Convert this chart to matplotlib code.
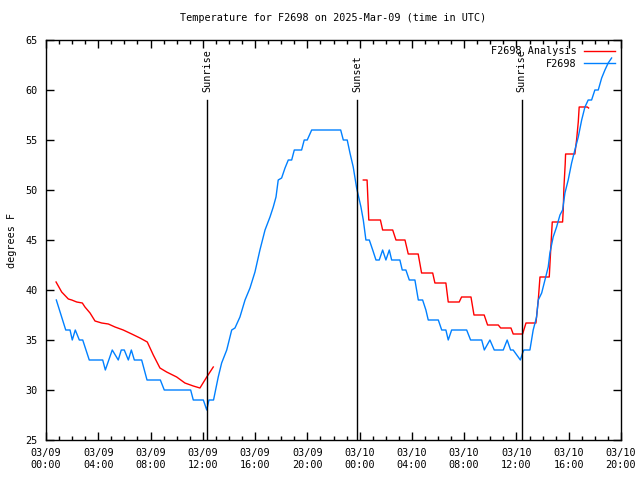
import numpy as np
import matplotlib
matplotlib.use('Agg')
import matplotlib.pyplot as plt
from matplotlib.ticker import MultipleLocator

# hours since 2025-03-09 00:00 UTC
obs_hours = [0.79, 1.51, 1.84, 2.01, 2.24, 2.55, 2.81, 3.31, 4.34, 4.54, 5.07, 5.53, 5.76, 5.99,
             6.30, 6.53, 6.76, 7.32, 7.73, 8.75, 9.05, 11.07, 11.27, 12.04, 12.30, 12.47, 12.82,
             13.18, 13.44, 13.83, 14.21, 14.46, 14.84, 15.23, 15.61, 15.99, 16.37, 16.76, 17.14,
             17.39, 17.60, 17.77, 18.03, 18.29, 18.54, 18.80, 19.00, 19.56, 19.76, 19.99, 20.33,
             22.55, 22.75, 23.05, 23.26, 23.51, 23.77, 24.10, 24.28, 24.48, 24.74, 25.00, 25.25,
             25.50, 25.76, 26.01, 26.27, 26.45, 27.08, 27.26, 27.54, 27.80, 28.23, 28.49, 28.82,
             29.07, 29.25, 30.02, 30.28, 30.60, 30.78, 31.04, 32.19, 32.49, 33.34, 33.54, 33.97,
             34.30, 34.99, 35.29, 35.55, 35.75, 36.30, 36.47, 36.57, 37.03, 37.28, 37.54, 37.67,
             37.93, 38.18, 38.43, 38.56, 38.81, 39.07, 39.33, 39.53, 39.71, 39.96, 40.22, 40.47,
             40.73, 40.99, 41.24, 41.49, 41.75, 42.00, 42.26, 42.52, 42.77, 43.02, 43.28]
obs_temp = [39, 36, 36, 35, 36, 35, 35, 33, 33, 32, 34, 33, 34, 34,
            33, 34, 33, 33, 31, 31, 30, 30, 29, 29, 28, 29, 29,
            31.3, 32.7, 34, 36, 36.2, 37.3, 39, 40.2, 41.8, 44, 46, 47.3,
            48.3, 49.3, 51, 51.2, 52.2, 53, 53, 54, 54, 55, 55, 56,
            56, 55, 55, 53.7, 52.3, 50.2, 48.3, 47, 45, 45, 44, 43,
            43, 44, 43, 44, 43, 43, 42, 42, 41, 41, 39, 39,
            38, 37, 37, 36, 36, 35, 36, 36, 35, 35, 34, 35,
            34, 34, 35, 34, 34, 33, 33.7, 34, 34, 36, 37.3, 39,
            39.7, 41, 42.3, 43.7, 45.3, 46.3, 47.5, 48, 49.7, 51, 52.7, 54,
            55.3, 57, 58.3, 59, 59, 60, 60, 61.2, 62, 62.7, 63.2]

ana_hours = [0.77, 1.20, 1.71, 1.97, 2.35, 2.78, 2.98, 3.37, 3.75, 4.26, 4.77, 5.28, 5.91,
             6.56, 7.19, 7.75, 8.21, 8.72, 9.23, 10.00, 10.63, 11.27, 11.78, 12.30, 12.80,
             None,
             24.28, 24.57, 24.70, 25.59, 25.76, 26.53, 26.78, 27.47, 27.72, 28.48, 28.74, 29.59,
             29.76, 30.60, 30.78, 31.62, 31.80, 32.52, 32.75, 33.53, 33.79, 34.61, 34.79, 35.58,
             35.75, 36.47, 36.73, 37.49, 37.67, 37.80, 38.51, 38.62, 38.74, 39.53, 39.58, 39.63,
             39.73, 39.76, 40.47, 40.60, 40.73, 40.80, 41.42, 41.52]
ana_temp = [40.8, 39.8, 39.1, 39, 38.8, 38.7, 38.3, 37.7, 36.9, 36.7, 36.6, 36.3, 36,
            35.6, 35.2, 34.8, 33.5, 32.2, 31.8, 31.3, 30.7, 30.4, 30.2, 31.3, 32.3,
            None,
            51, 51, 47, 47, 46, 46, 45, 45, 43.6, 43.6, 41.7, 41.7,
            40.7, 40.7, 38.8, 38.8, 39.3, 39.3, 37.5, 37.5, 36.5, 36.5, 36.2, 36.2,
            35.6, 35.6, 36.7, 36.7, 39, 41.3, 41.3, 44, 46.8, 46.8, 48, 50.2,
            52.6, 53.6, 53.6, 55, 56.8, 58.3, 58.3, 58.2]

sun_hours = [12.34, 23.83, 36.40]
sun_labels = ['Sunrise', 'Sunset', 'Sunrise']

tick_hours = [0, 4, 8, 12, 16, 20, 24, 28, 32, 36, 40, 44]
tick_labels = ['03/09\n00:00', '03/09\n04:00', '03/09\n08:00', '03/09\n12:00',
               '03/09\n16:00', '03/09\n20:00', '03/10\n00:00', '03/10\n04:00',
               '03/10\n08:00', '03/10\n12:00', '03/10\n16:00', '03/10\n20:00']

ana_h = np.array([np.nan if v is None else v for v in ana_hours], dtype=float)
ana_t = np.array([np.nan if v is None else v for v in ana_temp], dtype=float)

plt.rcParams['font.family'] = 'DejaVu Sans Mono'
plt.rcParams['font.size'] = 7.3

fig = plt.figure(figsize=(6.4, 4.8), dpi=100)
ax = fig.add_axes([46 / 640, 40 / 480, 575 / 640, 400 / 480])

ax.plot(ana_h, ana_t, color='#ff0000', lw=1.0, label='F2698 Analysis')
ax.plot(obs_hours, obs_temp, color='#0080ff', lw=1.0, label='F2698')

for h, lab in zip(sun_hours, sun_labels):
    ax.plot([h, h], [25, 59], color='black', lw=1.0)
    ax.text(h, 59.8, lab, rotation=90, ha='center', va='bottom')

ax.set_xlim(0, 44)
ax.set_ylim(25, 65)
ax.set_xticks(tick_hours)
ax.set_xticklabels(tick_labels)
ax.xaxis.set_minor_locator(MultipleLocator(1))
ax.yaxis.set_major_locator(MultipleLocator(5))
ax.tick_params(which='both', direction='in', top=True, right=True, width=1.0)
ax.tick_params(which='major', length=6, pad=6)
ax.tick_params(which='minor', length=3)
for s in ax.spines.values():
    s.set_linewidth(1.0)

ax.set_ylabel('degrees F', labelpad=6)
ax.set_title('Temperature for F2698 on 2025-Mar-09 (time in UTC)', fontsize=7.3, pad=14)

leg = ax.legend(loc='upper right', frameon=False, markerfirst=False, handlelength=3.0,
                borderaxespad=0.2, labelspacing=0.25, handletextpad=0.8)
for t in leg.get_texts():
    t.set_ha('right')

fig.savefig('out.png', dpi=100)
